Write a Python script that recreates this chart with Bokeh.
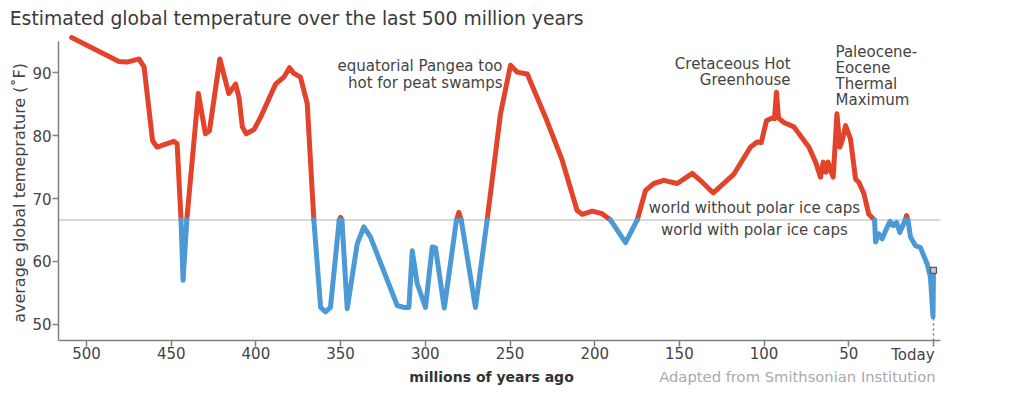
import math
from bokeh.plotting import figure
from bokeh.models import Label, Range1d, FixedTicker
from bokeh.embed import file_html
from bokeh.resources import INLINE

# ---- data (millions of years ago, average global temperature °F) ----
ages = [508.8, 480.9, 476, 469, 466, 461, 458.4, 448.5, 446.5, 444.2, 443, 440.8,
        434, 429.8, 427.4, 421.3, 416, 412, 410, 408, 405.7, 401, 397.3, 388.4,
        383.5, 380.2, 377.6, 373.7, 369.7, 365.8, 361.8, 358.9, 356, 350.8, 350,
        349.2, 346.1, 340.2, 336.3, 332.4, 316.6, 312.7, 309.7, 307.7, 304.8,
        299.9, 295.9, 294, 288.8, 281.6, 280.2, 278.8, 270.4, 263.5, 255.6, 249.7,
        245.7, 239.8, 229, 219.2, 210.4, 207.4, 201.5, 195.6, 190.7, 181.8, 174.9,
        170, 165.1, 159.2, 151.3, 142.4, 136.5, 130, 117.8, 108, 104.1, 101.7,
        98.6, 95.2, 93.9, 92.7, 91.5, 88.3, 82.4, 73.6, 69.6, 66.7, 65.1, 63.5,
        62.2, 60.8, 59.2, 57.0, 55.3, 53.9, 51.9, 49, 46, 44.1, 41.1, 38.2, 34.8,
        34.2, 32.3, 30.3, 28.3, 25.7, 23.7, 21.8, 19.9, 16.7, 15.9, 15.1, 13.6,
        10.6, 7.7, 3.7, 1.8, 0.8, 0.3, 0]
temps = [95.6, 91.8, 91.7, 92.2, 90.9, 79.2, 78.2, 79.1, 78.7, 66.6, 57.0, 66.6,
         86.7, 80.3, 80.8, 92.2, 86.7, 88.2, 86.1, 81.4, 80.3, 81.0, 82.9, 88.2,
         89.3, 90.8, 89.9, 89.3, 85.1, 66.6, 52.7, 52.0, 52.7, 66.6, 67.0,
         66.6, 52.5, 62.8, 65.5, 63.9, 53.0, 52.7, 52.7, 61.7, 56.5,
         52.7, 62.3, 62.2, 52.6, 66.6, 67.8, 66.6, 52.7, 66.6, 83.5, 91.2,
         90.1, 89.8, 82.9, 76.1, 68.1, 67.5, 68.0, 67.6, 66.6, 63.0, 66.6,
         71.3, 72.4, 72.9, 72.4, 74.0, 72.6, 70.9, 73.9, 78.2, 79.0, 78.9,
         82.4, 82.8, 82.7, 86.9, 82.8, 82.1, 81.4, 78.2, 75.8, 73.4, 75.8, 74.2,
         75.8, 74.5, 73.4, 83.5, 78.2, 79.2, 81.6, 79.5, 73.1, 72.6, 70.8, 67.5, 66.6,
         63.1, 64.4, 63.6, 64.9, 66.4, 65.7, 66.2, 64.6, 66.6, 67.3, 66.6, 63.9,
         62.5, 62.2, 59.6, 57.5, 53.3, 51.2, 58.6]

threshold = 66.6
x_ticks = [500, 450, 400, 350, 300, 250, 200, 150, 100, 50, 0]
y_ticks = [50, 60, 70, 80, 90]
today_label = "Today"

title_text = "Estimated global temperature over the last 500 million years"
x_label = "millions of years ago"
y_label = "average global temeprature (\u02daF)"
credit = "Adapted from Smithsonian Institution"
notes = [
    (["equatorial Pangea too", "hot for peat swamps"], 254.4, [91.0, 88.3], "right"),
    (["Cretaceous Hot", "Greenhouse"], 84.4, [91.43, 88.78], "right"),
    (["Paleocene-", "Eocene", "Thermal", "Maximum"], 57.85, [93.28, 90.8, 88.25, 85.6], "left"),
    (["world without polar ice caps"], 105.7, [68.54], "center"),
    (["world with polar ice caps"], 105.7, [64.93], "center"),
]

RED = "#e2432a"
BLUE = "#4b9ad6"
FONT = "DejaVu Sans"

# axis extents (data units)
X_LEFT, X_RIGHT = 516.5, -4.1
Y_BOTTOM, Y_TOP = 47.45, 94.9


def split(xs, ys, above):
    ox, oy = [], []
    for x, y in zip(xs, ys):
        ok = (y >= threshold) if above else (y <= threshold)
        if ok:
            ox.append(x); oy.append(y)
        elif ox and not math.isnan(oy[-1]):
            ox.append(float("nan")); oy.append(float("nan"))
    return ox, oy


p = figure(frame_width=1000, frame_height=388, output_backend="svg", title=None,
           toolbar_location=None, x_range=Range1d(550.77, -39.55),
           y_range=Range1d(39.81, 101.49), min_border=0,
           background_fill_color="white", border_fill_color="white")
p.outline_line_color = None
p.grid.grid_line_color = None

p.line([X_LEFT, X_RIGHT], [threshold, threshold], line_color="#d9d9d9", line_width=2)

rx, ry = split(ages, temps, True)
bx, by = split(ages, temps, False)
p.line(rx, ry, line_color=RED, line_width=5, line_join="round", line_cap="round")
p.line(bx, by, line_color=BLUE, line_width=5, line_join="round", line_cap="round")
p.line([ages[-1], ages[-1]], [Y_BOTTOM, min(temps[-6:])], line_color="#777777",
       line_width=1.5, line_dash="2 3")
p.scatter([ages[-1]], [temps[-1]], marker="square", size=6, fill_color="#b8c6d6",
          line_color="#555555", line_width=1.2)

for ax in (p.xaxis, p.yaxis):
    ax.axis_line_color = "#808080"
    ax.axis_line_width = 1.5
    ax.major_tick_line_color = "#808080"
    ax.major_tick_line_width = 1.5
    ax.major_tick_out = 6
    ax.major_tick_in = 0
    ax.minor_tick_line_color = None
    ax.major_label_text_font = FONT
    ax.major_label_text_font_size = "15px"
    ax.major_label_text_color = "#444444"
p.xaxis.ticker = FixedTicker(ticks=x_ticks)
p.yaxis.ticker = FixedTicker(ticks=y_ticks)
p.xaxis.major_label_overrides = {0: ""}
p.xaxis.major_label_standoff = 1
p.yaxis.major_label_standoff = 1
p.xaxis.fixed_location = Y_BOTTOM
p.yaxis.fixed_location = X_LEFT
p.xaxis.bounds = (X_LEFT, X_RIGHT)
p.yaxis.bounds = (Y_BOTTOM, Y_TOP)


def lab(txt, x, y, size="15px", color="#444444", align="left", style="normal",
        angle=0.0, baseline="middle"):
    p.add_layout(Label(x=x, y=y, text=txt, text_font=FONT, text_font_size=size,
                       text_color=color, text_align=align, text_baseline=baseline,
                       text_font_style=style, angle=angle))


lab(title_text, 545.3, 98.6, size="18.75px", color="#3a3a3a")
lab(today_label, -0.6, 45.1, size="15px", color="#444444", align="right")
lab(x_label, 260.9, 41.7, size="14px", color="#333333", align="center", style="bold")
lab(credit, -1.2, 41.7, size="14.75px", color="#aaaaaa", align="right")
lab(y_label, 539.6, 70.9, size="16px", color="#444444", align="center",
    angle=math.pi / 2)
for lines, x, ys, align in notes:
    for t, y in zip(lines, ys):
        lab(t, x, y, size="15px", color="#444444", align=align)

open("out.html", "w").write(file_html(p, INLINE))
